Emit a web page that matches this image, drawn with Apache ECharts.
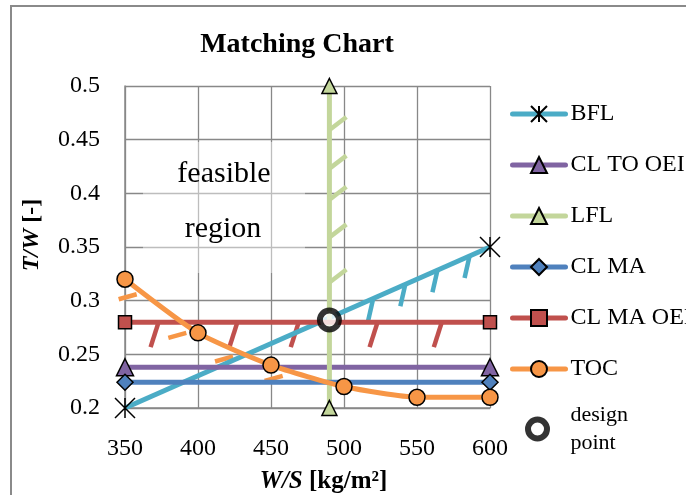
<!DOCTYPE html>
<html>
<head>
<meta charset="utf-8">
<script src="https://cdn.jsdelivr.net/npm/echarts@6/dist/echarts.min.js"></script>
<style>
  html, body { margin: 0; padding: 0; background: #fff; }
  #chart { width: 686px; height: 495px; }
</style>
</head>
<body>
<div id="chart"></div>
<script>
// Wing loading W/S [kg/m²] and thrust-to-weight T/W [-] for each constraint
const wsTicks = [350, 400, 450, 500, 550, 600];
const twTicks = [0.2, 0.25, 0.3, 0.35, 0.4, 0.45, 0.5];

const bflWS = [350, 600];
const bflTW = [0.2, 0.35];
const clToOeiWS = [350, 600];
const clToOeiTW = [0.238, 0.238];
const lflWS = [490, 490];
const lflTW = [0.2, 0.5];
const clMaWS = [350, 600];
const clMaTW = [0.224, 0.224];
const clMaOeiWS = [350, 600];
const clMaOeiTW = [0.28, 0.28];
const tocWS = [350, 400, 450, 500, 550, 600];
const tocTW = [0.32, 0.27, 0.24, 0.22, 0.21, 0.21];

const designWS = [490];
const designTW = [0.282];

// Points on each constraint where an infeasible-side hatch starts
const bflHatchWS = [520, 542, 564, 586];
const bflHatchTW = [0.302, 0.3152, 0.3284, 0.3416];
const lflHatchWS = [490, 490, 490, 490, 490];
const lflHatchTW = [0.459, 0.423, 0.394, 0.359, 0.317];
const clMaOeiHatchWS = [373, 427, 469, 523, 567];
const clMaOeiHatchTW = [0.28, 0.28, 0.28, 0.28, 0.28];
const tocHatchWS = [358, 392, 424, 458];
const tocHatchTW = [0.306, 0.27, 0.248, 0.23];

const seriesNames = ['BFL', 'CL TO OEI', 'LFL', 'CL MA', 'CL MA OEI', 'TOC'];
const designName = 'design point';

const SERIF = '"Liberation Serif", "Times New Roman", serif';
const COLORS = {
  bfl: '#4bacc6',
  clToOei: '#8064a2',
  lfl: '#c3d69b',
  clMa: '#4f81bd',
  clMaOei: '#c0504d',
  toc: '#f79646'
};
const GRID_GRAY = '#888888';
const LINE_W = 5;

const zip = (xs, ys) => xs.map((x, i) => [x, ys[i]]);

function constraintLine(name, xs, ys, color, symbol, symbolSize, extra) {
  return Object.assign({
    type: 'line',
    name: name,
    data: zip(xs, ys),
    symbol: symbol,
    symbolSize: symbolSize,
    showSymbol: true,
    lineStyle: { color: color, width: LINE_W },
    itemStyle: { color: color, borderColor: '#000', borderWidth: 1.5 },
    z: 3
  }, extra || {});
}

// short strokes marking the infeasible side of a constraint; vec is in pixels
function hatches(xs, ys, color, vec) {
  return {
    type: 'custom',
    silent: true,
    z: 2,
    data: zip(xs, ys),
    encode: { x: 0, y: 1 },
    renderItem: function (params, api) {
      const p = api.coord([api.value(0), api.value(1)]);
      return {
        type: 'line',
        shape: { x1: p[0], y1: p[1], x2: p[0] + vec[0], y2: p[1] + vec[1] },
        style: { stroke: color, lineWidth: 4.5, lineCap: 'butt' }
      };
    }
  };
}

const chart = echarts.init(document.getElementById('chart'), null, { renderer: 'canvas' });

const option = {
  animation: false,
  backgroundColor: '#fff',
  title: {
    text: 'Matching Chart',
    left: 292,
    top: 26,
    textAlign: 'center',
    textStyle: { fontFamily: SERIF, fontSize: 28, fontWeight: 'bold', color: '#000' }
  },
  grid: {
    left: 125, right: 196, top: 86, bottom: 87,
    containLabel: false,
    outerBoundsMode: 'none'
  },
  legend: [
    {
      data: seriesNames,
      orient: 'vertical',
      left: 510,
      top: 102,
      padding: 0,
      itemWidth: 53,
      itemHeight: 20,
      itemGap: 27,
      selectedMode: false,
      lineStyle: { width: LINE_W, cap: 'round' },
      textStyle: { fontFamily: SERIF, fontSize: 24, lineHeight: 24, color: '#000' }
    },
    {
      data: [designName],
      orient: 'vertical',
      left: 525,
      top: 401,
      padding: 0,
      itemWidth: 56,
      itemHeight: 19,
      selectedMode: false,
      itemStyle: { color: '#fff', borderColor: '#000', borderWidth: 6 },
      formatter: function (n) { return n.replace(' ', '\n'); },
      textStyle: { fontFamily: SERIF, fontSize: 22, lineHeight: 28, color: '#000' }
    }
  ],
  xAxis: {
    type: 'value',
    min: wsTicks[0],
    max: wsTicks[wsTicks.length - 1],
    interval: 50,
    name: '{i|W/S} [kg/m²]',
    nameLocation: 'middle',
    nameGap: 61,
    nameTextStyle: {
      fontFamily: SERIF, fontSize: 25, fontWeight: 'bold', color: '#000',
      padding: [0, 0, 0, 32],
      rich: { i: { fontFamily: SERIF, fontSize: 25, fontWeight: 'bold', fontStyle: 'italic', color: '#000' } }
    },
    axisLine: { show: true, lineStyle: { color: GRID_GRAY, width: 1.5 } },
    axisTick: { show: false },
    axisLabel: { margin: 29, fontFamily: SERIF, fontSize: 24, color: '#000' },
    splitLine: { show: true, lineStyle: { color: GRID_GRAY, width: 1.3 } }
  },
  yAxis: {
    type: 'value',
    min: twTicks[0],
    max: twTicks[twTicks.length - 1],
    interval: 0.05,
    name: '{i|T/W} [-]',
    nameLocation: 'middle',
    nameRotate: 90,
    nameGap: 81,
    nameTextStyle: {
      fontFamily: SERIF, fontSize: 24, fontWeight: 'bold', color: '#000',
      padding: [0, 0, 0, 24],
      rich: { i: { fontFamily: SERIF, fontSize: 24, fontWeight: 'bold', fontStyle: 'italic', color: '#000' } }
    },
    axisLine: { show: true, lineStyle: { color: GRID_GRAY, width: 1.5 } },
    axisTick: { show: false },
    axisLabel: {
      margin: 25, fontFamily: SERIF, fontSize: 24, color: '#000',
      formatter: function (v) { return String(Math.round(v * 100) / 100); }
    },
    splitLine: { show: true, lineStyle: { color: GRID_GRAY, width: 1.3 } }
  },
  graphic: [
    {
      type: 'rect',
      z: 100,
      silent: true,
      shape: { x: 11, y: 6, width: 720, height: 540 },
      style: { fill: 'none', stroke: '#8a8a8a', lineWidth: 2 }
    },
    {
      type: 'rect',
      z: 1,
      silent: true,
      shape: { x: 143, y: 142, width: 162, height: 131 },
      style: { fill: 'rgba(255,255,255,0.45)' }
    },
    {
      type: 'text',
      z: 1,
      x: 224, y: 174,
      silent: true,
      style: { text: 'feasible', font: '30px ' + SERIF, fill: '#000', align: 'center', verticalAlign: 'middle' }
    },
    {
      type: 'text',
      z: 1,
      x: 223, y: 229,
      silent: true,
      style: { text: 'region', font: '30px ' + SERIF, fill: '#000', align: 'center', verticalAlign: 'middle' }
    }
  ],
  series: [
    hatches(bflHatchWS, bflHatchTW, COLORS.bfl, [-5, 22]),
    hatches(lflHatchWS, lflHatchTW, COLORS.lfl, [17, -13]),
    hatches(clMaOeiHatchWS, clMaOeiHatchTW, COLORS.clMaOei, [-8, 25]),
    hatches(tocHatchWS, tocHatchTW, COLORS.toc, [-18, 5]),
    constraintLine('BFL', bflWS, bflTW, COLORS.bfl,
      'path://M0,0L20,20M20,0L0,20M10,0L10,20', 20,
      { itemStyle: { color: '#000', borderColor: '#000', borderWidth: 1.5 } }),
    constraintLine('CL TO OEI', clToOeiWS, clToOeiTW, COLORS.clToOei, 'triangle', 17),
    constraintLine('LFL', lflWS, lflTW, COLORS.lfl, 'triangle', 15),
    constraintLine('CL MA', clMaWS, clMaTW, COLORS.clMa, 'diamond', 16),
    constraintLine('CL MA OEI', clMaOeiWS, clMaOeiTW, COLORS.clMaOei, 'rect', 13),
    constraintLine('TOC', tocWS, tocTW, COLORS.toc, 'circle', 16, { smooth: 0.2 }),
    {
      type: 'scatter',
      name: designName,
      data: zip(designWS, designTW),
      symbol: 'circle',
      symbolSize: 19,
      itemStyle: { color: '#fff', borderColor: '#000', borderWidth: 6 },
      z: 5
    }
  ]
};

chart.setOption(option);
</script>
</body>
</html>
